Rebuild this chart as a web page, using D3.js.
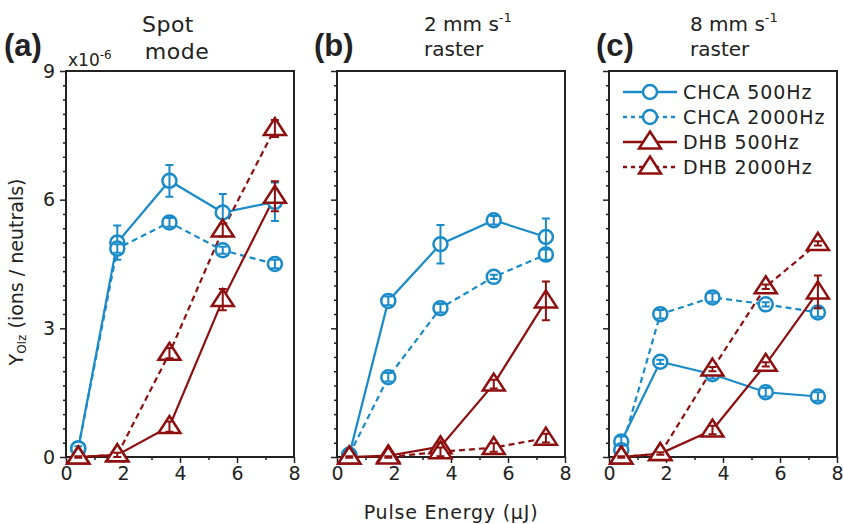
<!DOCTYPE html>
<html>
<head>
<meta charset="utf-8">
<script src="https://cdn.jsdelivr.net/npm/d3@7"></script>
<style>
  body { margin: 0; background: #fff; }
  text { font-family: "DejaVu Sans", sans-serif; fill: #222; }
</style>
</head>
<body>
<svg id="chart"></svg>
<script>
var width = 843, height = 524;

// pulse energies (uJ), same for every series
var energy = [0.43, 1.8, 3.63, 5.5, 7.33];

// yields x1e-6, one array per panel and series, plus error bars
var chca500_a = [0.2, 5.0, 6.44, 5.7, 5.95];
var chca500_a_err = [0.05, 0.4, 0.37, 0.43, 0.45];
var chca2000_a = [0.2, 4.86, 5.47, 4.82, 4.5];
var chca2000_a_err = [0.05, 0.1, 0.1, 0.08, 0.1];
var dhb500_a = [0, 0.05, 0.71, 3.67, 6.08];
var dhb500_a_err = [0.02, 0.05, 0.12, 0.25, 0.35];
var dhb2000_a = [0, 0.05, 2.42, 5.29, 7.66];
var dhb2000_a_err = [0.02, 0.05, 0.12, 0.15, 0.2];

var chca500_b = [0.05, 3.64, 4.96, 5.52, 5.13];
var chca500_b_err = [0.05, 0.1, 0.45, 0.1, 0.43];
var chca2000_b = [0.05, 1.86, 3.47, 4.2, 4.72];
var chca2000_b_err = [0.03, 0.1, 0.1, 0.05, 0.12];
var dhb500_b = [0, 0.03, 0.24, 1.7, 3.64];
var dhb500_b_err = [0.02, 0.03, 0.1, 0.1, 0.45];
var dhb2000_b = [0, 0, 0.12, 0.22, 0.44];
var dhb2000_b_err = [0.02, 0.02, 0.1, 0.1, 0.1];

var chca500_c = [0.36, 2.22, 1.93, 1.51, 1.41];
var chca500_c_err = [0.12, 0.05, 0.1, 0.1, 0.1];
var chca2000_c = [0.16, 3.33, 3.72, 3.56, 3.37];
var chca2000_c_err = [0.1, 0.1, 0.1, 0.05, 0.1];
var dhb500_c = [0, 0.08, 0.63, 2.16, 3.85];
var dhb500_c_err = [0.02, 0.03, 0.1, 0.05, 0.38];
var dhb2000_c = [0, 0.08, 2.05, 3.97, 4.98];
var dhb2000_c_err = [0.02, 0.03, 0.05, 0.05, 0.05];

var seriesNames = ["CHCA 500Hz", "CHCA 2000Hz", "DHB 500Hz", "DHB 2000Hz"];
var panelLetters = ["(a)", "(b)", "(c)"];
var panelTitles = [["Spot", "mode"], ["2 mm s", "raster"], ["8 mm s", "raster"]];
var xTicks = [0, 2, 4, 6, 8];
var yTicks = [0, 3, 6, 9];

var blue = "#1a8bc9", red = "#8e0f0f";
var styles = [
  {color: blue, dash: null, marker: "circle"},
  {color: blue, dash: "6,4", marker: "circle"},
  {color: red, dash: null, marker: "triangle"},
  {color: red, dash: "6,4", marker: "triangle"}
];

var panels = [
  [[chca500_a, chca500_a_err], [chca2000_a, chca2000_a_err], [dhb500_a, dhb500_a_err], [dhb2000_a, dhb2000_a_err]],
  [[chca500_b, chca500_b_err], [chca2000_b, chca2000_b_err], [dhb500_b, dhb500_b_err], [dhb2000_b, dhb2000_b_err]],
  [[chca500_c, chca500_c_err], [chca2000_c, chca2000_c_err], [dhb500_c, dhb500_c_err], [dhb2000_c, dhb2000_c_err]]
];

var chart = d3.select("#chart")
    .attr("width", width)
    .attr("height", height);

var lefts = [66, 337, 609], pw = 228;
var letterX = [4, 314, 596];
var y = d3.scaleLinear().domain([0, 9]).range([457, 71]);

function drawMarker(g, kind, color) {
    if (kind == "circle") {
        g.append("circle").attr("r", 7)
            .attr("fill", "white").attr("stroke", color).attr("stroke-width", 2.5);
    } else {
        g.append("path").attr("d", "M0,-10.5L11,6.5L-11,6.5Z")
            .attr("fill", "white").attr("stroke", color).attr("stroke-width", 2.5)
            .attr("stroke-linejoin", "miter");
    }
}

panels.forEach(function(series, p) {
    var x = d3.scaleLinear().domain([0, 8]).range([lefts[p], lefts[p] + pw]);
    var g = chart.append("g");

    // minor and major ticks
    g.append("g").attr("transform", "translate(0,457)")
        .call(d3.axisBottom(x).tickValues([1, 3, 5, 7]).tickSize(3).tickFormat(""));
    g.append("g").attr("transform", "translate(0,457)")
        .call(d3.axisBottom(x).tickValues(xTicks).tickSize(6).tickPadding(4));
    var minorY = d3.range(0, 28).map(function(i) { return i / 3; }).filter(function(v, i) { return i % 9 != 0; });
    g.append("g").attr("transform", "translate(" + lefts[p] + ",0)")
        .call(d3.axisLeft(y).tickValues(minorY).tickSize(3).tickFormat(""));
    g.append("g").attr("transform", "translate(" + lefts[p] + ",0)")
        .call(d3.axisLeft(y).tickValues(yTicks).tickSize(6).tickPadding(5)
              .tickFormat(p == 0 ? d3.format("d") : ""));
    g.selectAll(".domain").remove();
    g.selectAll(".tick line").attr("stroke", "#222").attr("stroke-width", 1.5);
    g.selectAll(".tick text").style("font-size", "19px").attr("fill", "#222");

    g.append("rect").attr("x", lefts[p]).attr("y", 71).attr("width", pw).attr("height", 386)
        .attr("fill", "none").attr("stroke", "#222").attr("stroke-width", 2);

    var line = d3.line().x(function(d, i) { return x(energy[i]); }).y(function(d) { return y(d); });

    series.forEach(function(s, k) {
        var st = styles[k];
        g.append("path").datum(s[0]).attr("d", line)
            .attr("fill", "none").attr("stroke", st.color).attr("stroke-width", 2.2)
            .attr("stroke-dasharray", st.dash);
    });
    series.forEach(function(s, k) {
        var st = styles[k];
        s[0].forEach(function(v, i) {
            var m = g.append("g").attr("transform", "translate(" + x(energy[i]) + "," + y(v) + ")");
            drawMarker(m, st.marker, st.color);
            var e = s[1][i];
            var y0 = y(v - e) - y(v), y1 = y(v + e) - y(v);
            m.append("path")
                .attr("d", "M0," + y0 + "V" + y1 + "M-4," + y0 + "H4M-4," + y1 + "H4")
                .attr("stroke", st.color).attr("stroke-width", 2).attr("fill", "none");
        });
    });

    // panel labels
    chart.append("text").attr("x", letterX[p]).attr("y", 56)
        .style("font-family", "Liberation Sans, Arial, sans-serif")
        .style("font-weight", "bold").style("font-size", "31px").attr("fill", "#111")
        .text(panelLetters[p]);
    if (p == 0) {
        chart.append("text").attr("x", 168).attr("y", 32).attr("text-anchor", "middle")
            .style("font-size", "22px").style("letter-spacing", "0.5px").text(panelTitles[p][0]);
        chart.append("text").attr("x", 177).attr("y", 59).attr("text-anchor", "middle")
            .style("font-size", "22px").style("letter-spacing", "0.5px").text(panelTitles[p][1]);
    } else {
        var tx = p == 1 ? 424 : 690;
        var t1 = chart.append("text").attr("x", tx).attr("y", 31).style("font-size", "20px");
        t1.append("tspan").text(panelTitles[p][0]);
        t1.append("tspan").attr("dy", -9).style("font-size", "13px").text("-1");
        chart.append("text").attr("x", tx).attr("y", 56)
            .style("font-size", "20px").text(panelTitles[p][1]);
    }
});

// exponent note
var ex = chart.append("text").attr("x", 68).attr("y", 66).style("font-size", "17px");
ex.append("tspan").text("x10");
ex.append("tspan").attr("dy", -7).style("font-size", "12px").text("-6");

// axis titles
var yl = chart.append("text").attr("transform", "translate(23,272) rotate(-90)")
    .attr("text-anchor", "middle").style("font-size", "19px");
yl.append("tspan").text("Y");
yl.append("tspan").attr("dy", 3).style("font-size", "12px").text("OIz");
yl.append("tspan").attr("dy", -3).text(" (ions / neutrals)");

chart.append("text").attr("x", 451).attr("y", 519).attr("text-anchor", "middle")
    .style("font-size", "19px").style("letter-spacing", "0.8px").text("Pulse Energy (\u00b5J)");

// legend in panel c
var legend = chart.append("g");
seriesNames.forEach(function(name, k) {
    var st = styles[k];
    var row = legend.append("g").attr("transform", "translate(0," + (92 + k * 25) + ")");
    row.append("line").attr("x1", 623).attr("x2", 677)
        .attr("stroke", st.color).attr("stroke-width", 2.4).attr("stroke-dasharray", st.dash ? "4,4" : null);
    var m = row.append("g").attr("transform", "translate(650,0)");
    drawMarker(m, st.marker, st.color);
    row.append("text").attr("x", 683).attr("y", 7).style("font-size", "19px")
        .style("letter-spacing", "0.9px").text(name);
});
</script>
</body>
</html>
